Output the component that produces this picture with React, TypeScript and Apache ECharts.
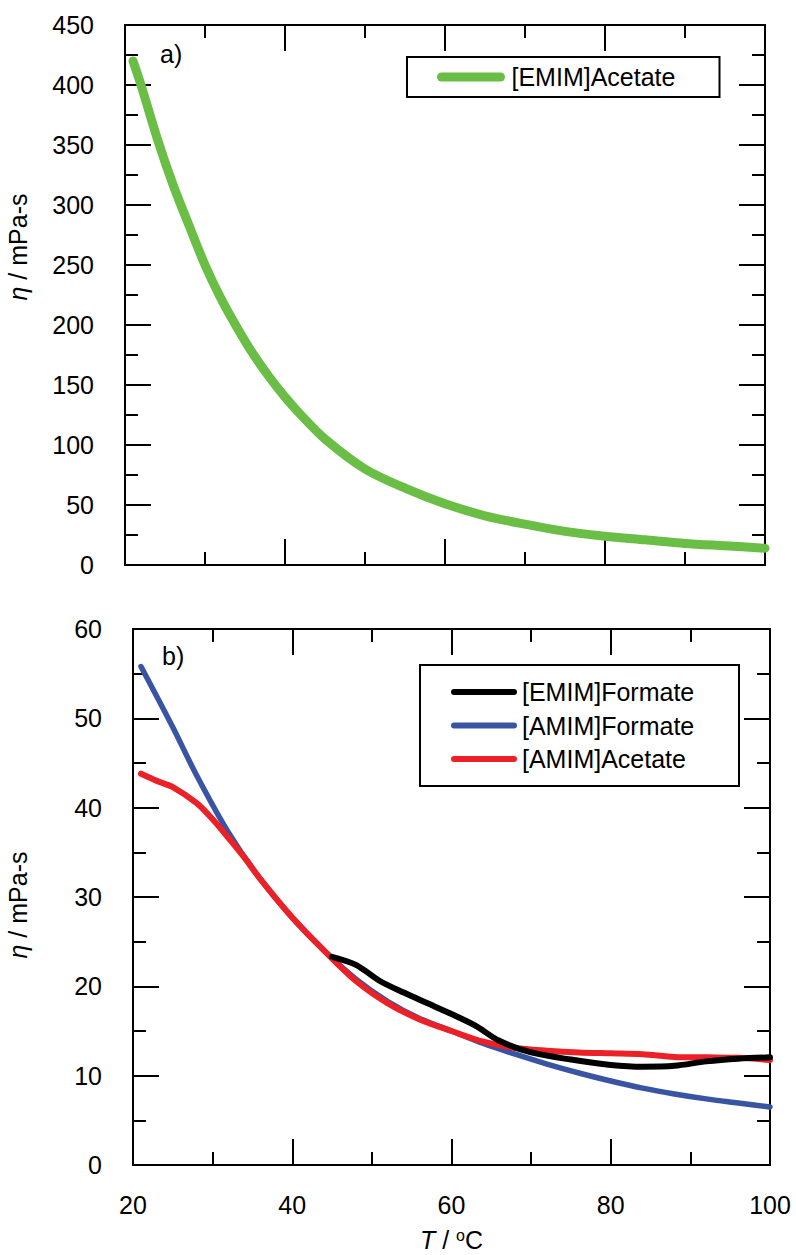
import React, { useEffect, useRef } from "react";
import * as echarts from "echarts";

const FONT = '"Liberation Sans", Arial, Helvetica, sans-serif';

// Panel a) [EMIM]Acetate
const emimAcetateT = [21, 22, 24, 26, 28, 30, 32, 34, 36, 38, 40, 42, 45, 50, 55, 60, 65, 70, 75, 80, 85, 90, 95, 100];
const emimAcetateEta = [420, 400, 356, 317, 283, 250, 222, 198, 176, 157, 140, 125, 105, 80, 64, 51, 41, 34, 28, 24, 21, 18, 16, 14];

// Panel b)
const emimFormateT = [45, 48, 51, 54, 57, 60, 63, 66, 70, 75, 80, 84, 88, 92, 96, 100];
const emimFormateEta = [23.3, 22.4, 20.6, 19.3, 18.1, 16.9, 15.6, 13.9, 12.6, 11.8, 11.2, 11.0, 11.1, 11.6, 11.9, 12.05];

const amimFormateT = [21, 25, 28, 32, 36, 40, 44, 48, 52, 56, 60, 64, 68, 72, 76, 80, 84, 88, 92, 96, 100];
const amimFormateEta = [55.8, 49.0, 43.6, 37.2, 32.0, 27.7, 24.0, 20.8, 18.3, 16.4, 15.0, 13.6, 12.4, 11.3, 10.3, 9.4, 8.6, 7.95, 7.4, 6.95, 6.5];

const amimAcetateT = [21, 23, 25, 28, 30, 32, 34, 36, 40, 44, 48, 52, 56, 60, 64, 68, 72, 76, 80, 84, 88, 92, 96, 100];
const amimAcetateEta = [43.8, 43.0, 42.3, 40.5, 38.7, 36.6, 34.4, 32.0, 27.7, 24.0, 20.6, 18.1, 16.3, 15.0, 13.8, 13.1, 12.8, 12.6, 12.5, 12.4, 12.1, 12.05, 12.0, 11.75];

const xTicks = { min: 20, max: 100, interval: 20 };
const yTicksA = { min: 0, max: 450, interval: 50 };
const yTicksB = { min: 0, max: 60, interval: 10 };

const pairs = (xs: number[], ys: number[]) => xs.map((x, i) => [x, ys[i]]);

function axis(gridIndex: number, position: string, range: any, showLabel: boolean, labelMargin: number, extra: any = {}) {
  return {
    type: "value",
    gridIndex,
    position,
    min: range.min,
    max: range.max,
    interval: range.interval,
    axisLine: { show: true, onZero: false, lineStyle: { color: "#000", width: 2 } },
    axisTick: { show: true, inside: true, length: 26, lineStyle: { color: "#000", width: 2 } },
    minorTick: { show: true, splitNumber: 2, length: 13, lineStyle: { color: "#000", width: 2 } },
    splitLine: { show: false },
    minorSplitLine: { show: false },
    axisLabel: {
      show: showLabel,
      color: "#000",
      fontSize: 25,
      fontFamily: FONT,
      margin: labelMargin,
      showMinLabel: true,
      showMaxLabel: true,
    },
    ...extra,
  };
}

const yName = (pad: number[]) => ({
  name: "{i|η}{n| / mPa-s}",
  nameLocation: "middle",
  nameTextStyle: {
    color: "#000",
    fontSize: 25,
    fontFamily: FONT,
    padding: pad,
    rich: {
      i: { fontStyle: "italic", fontSize: 25, fontFamily: FONT, color: "#000" },
      n: { fontSize: 25, fontFamily: FONT, color: "#000" },
    },
  },
});

const series = (name: string, xi: number, yi: number, xs: number[], ys: number[], color: string, width: number, z: number) => ({
  name,
  type: "line",
  xAxisIndex: xi,
  yAxisIndex: yi,
  data: pairs(xs, ys),
  symbol: "none",
  smooth: 0.3,
  color,
  lineStyle: { width, color, cap: "round", join: "round" },
  z,
});

export default function App() {
  const ref = useRef<HTMLDivElement>(null);
  useEffect(() => {
    if (!ref.current) return;
    const chart = echarts.init(ref.current, undefined, { renderer: "svg" });
    const option: any = {
      animation: false,
      backgroundColor: "#fff",
      textStyle: { fontFamily: FONT },
      grid: [
        { left: 125, top: 25, width: 640, height: 540, outerBoundsMode: "none", containLabel: false },
        { left: 133, top: 629, width: 637, height: 536, outerBoundsMode: "none", containLabel: false },
      ],
      xAxis: [
        axis(0, "bottom", xTicks, false, 27),
        axis(0, "top", xTicks, false, 27),
        axis(1, "bottom", xTicks, true, 27, {
          name: "{i|T}{n| / }{s|o}{n|C}",
          nameLocation: "middle",
          nameGap: 62,
          nameTextStyle: {
            color: "#000",
            fontSize: 25,
            fontFamily: FONT,
            rich: {
              i: { fontStyle: "italic", fontSize: 25, fontFamily: FONT, color: "#000" },
              n: { fontSize: 25, fontFamily: FONT, color: "#000" },
              s: { fontSize: 16, fontFamily: FONT, color: "#000", verticalAlign: "top" },
            },
          },
        }),
        axis(1, "top", xTicks, false, 27),
      ],
      yAxis: [
        axis(0, "left", yTicksA, true, 31, { ...yName([0, 0, 0, 96]), nameGap: 95 }),
        axis(0, "right", yTicksA, false, 31),
        axis(1, "left", yTicksB, true, 31, { ...yName([0, 16, 0, 0]), nameGap: 103 }),
        axis(1, "right", yTicksB, false, 31),
      ],
      legend: [
        {
          data: ["[EMIM]Acetate"],
          left: 407,
          top: 57,
          orient: "horizontal",
          padding: [6, 28, 6, 30],
          itemWidth: 59,
          itemHeight: 28,
          borderColor: "#000",
          borderWidth: 2,
          borderRadius: 0,
          backgroundColor: "#fff",
          itemStyle: { opacity: 0 },
          lineStyle: { width: 9, cap: "round" },
          textStyle: { color: "#000", fontSize: 25, fontFamily: FONT, lineHeight: 28, width: 180, padding: [0, 0, 0, 6] },
          selectedMode: false,
        },
        {
          data: ["[EMIM]Formate", "[AMIM]Formate", "[AMIM]Acetate"],
          left: 420,
          top: 665,
          orient: "vertical",
          padding: [13, 27, 13, 31],
          itemWidth: 60,
          itemHeight: 28,
          itemGap: 5.5,
          borderColor: "#000",
          borderWidth: 2,
          borderRadius: 0,
          backgroundColor: "#fff",
          itemStyle: { opacity: 0 },
          lineStyle: { width: 6, cap: "round" },
          textStyle: { color: "#000", fontSize: 25, fontFamily: FONT, lineHeight: 28, width: 190, padding: [0, 0, 0, 3] },
          selectedMode: false,
        },
      ],
      graphic: [
        { type: "text", left: 160, top: 41, style: { text: "a)", fill: "#000", font: `25px ${FONT}` } },
        { type: "text", left: 162, top: 643, style: { text: "b)", fill: "#000", font: `25px ${FONT}` } },
      ],
      series: [
        series("[EMIM]Acetate", 0, 0, emimAcetateT, emimAcetateEta, "#6abd45", 9, 2),
        series("[AMIM]Formate", 2, 2, amimFormateT, amimFormateEta, "#3a54a4", 5.5, 2),
        series("[AMIM]Acetate", 2, 2, amimAcetateT, amimAcetateEta, "#ec2027", 6, 3),
        series("[EMIM]Formate", 2, 2, emimFormateT, emimFormateEta, "#000000", 6, 4),
      ],
    };
    chart.setOption(option);
    return () => chart.dispose();
  }, []);
  return (
    <div
      ref={ref}
      style={{ position: "absolute", left: 0, top: 0, width: 796, height: 1255, background: "#fff" }}
    />
  );
}
